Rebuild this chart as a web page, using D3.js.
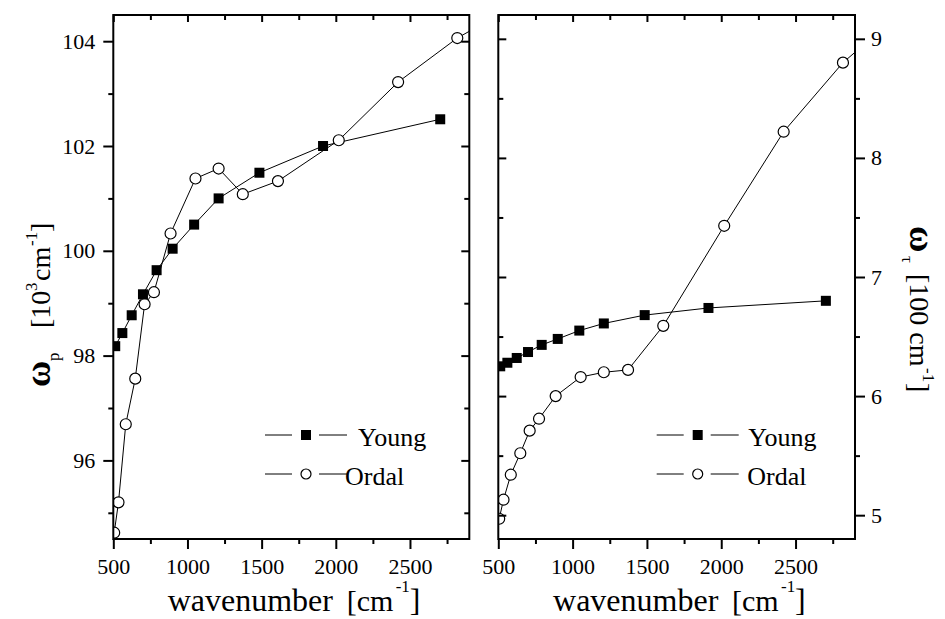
<!DOCTYPE html>
<html>
<head>
<meta charset="utf-8">
<script src="https://cdn.jsdelivr.net/npm/d3@7"></script>
<style>
  body { margin: 0; background: #fff; }
  svg { display: block; font-family: "Liberation Serif", "Times New Roman", serif; }
</style>
</head>
<body>
<svg width="945" height="619"></svg>
<script>
// data
var youngWavenumber = [513, 561, 624, 700, 792, 900, 1045, 1210, 1485, 1914, 2704];
var youngPlasma = [98.18, 98.43, 98.77, 99.17, 99.63, 100.04, 100.5, 101.0, 101.49, 102.0, 102.51];
var youngDamping = [6.25, 6.28, 6.32, 6.37, 6.43, 6.48, 6.55, 6.61, 6.68, 6.74, 6.80];

var ordalWavenumber = [506, 535, 584, 648, 711, 774, 886, 1054, 1210, 1373, 1610, 2020, 2420, 2819, 3220];
var ordalPlasma = [94.62, 95.2, 96.69, 97.56, 98.98, 99.21, 100.33, 101.38, 101.57, 101.08, 101.33, 102.11, 103.22, 104.06, 104.7];
var ordalDamping = [4.97, 5.13, 5.34, 5.52, 5.71, 5.81, 6.0, 6.16, 6.2, 6.22, 6.59, 7.43, 8.22, 8.80, 9.23];

var seriesNames = ['Young', 'Ordal'];

var xTicks = [500, 1000, 1500, 2000, 2500];
var xMinorTicks = [750, 1250, 1750, 2250, 2750];
var plasmaTicks = [96, 98, 100, 102, 104];
var plasmaMinorTicks = [95, 97, 99, 101, 103];
var dampingTicks = [5, 6, 7, 8, 9];
var dampingMinorTicks = [5.5, 6.5, 7.5, 8.5];

var serif = '"Liberation Serif", "Times New Roman", serif';
var svg = d3.select('svg');

var plotTop = 15;
var plotBottom = 539;

var panels = [
    { id: 'clipLeft', side: 'left', left: 113.3, right: 469.3, yDomain: [94.5, 104.5],
      young: youngPlasma, ordal: ordalPlasma, yTicks: plasmaTicks, yMinor: plasmaMinorTicks,
      legend: { x: 265, textYoung: 358, textOrdal: 345 } },
    { id: 'clipRight', side: 'right', left: 498.3, right: 855, yDomain: [4.8, 9.2],
      young: youngDamping, ordal: ordalDamping, yTicks: dampingTicks, yMinor: dampingMinorTicks,
      legend: { x: 656.7, textYoung: 748.3, textOrdal: 747.3 } }
];

function addAxis(gen, tx, ty, values, size, pad, labels) {
    var g = svg.append('g')
        .attr('transform', 'translate(' + tx + ',' + ty + ')')
        .call(gen.tickValues(values).tickSize(size).tickPadding(pad).tickFormat(d3.format('d')));
    g.attr('font-family', serif).attr('font-size', 22);
    g.select('.domain').remove();
    g.selectAll('.tick line').attr('stroke', '#000').attr('stroke-width', 2);
    g.selectAll('.tick text').attr('fill', '#000');
    if (!labels) g.selectAll('.tick text').remove();
}

panels.forEach(function (p) {
    var x = d3.scaleLinear().domain([500, 2900]).range([p.left, p.right]);
    var y = d3.scaleLinear().domain(p.yDomain).range([plotBottom, plotTop]);

    svg.append('clipPath').attr('id', p.id).append('rect')
        .attr('x', p.left).attr('y', plotTop)
        .attr('width', p.right - p.left).attr('height', plotBottom - plotTop);

    var plot = svg.append('g').attr('clip-path', 'url(#' + p.id + ')');
    var line = d3.line().x(function (d) { return x(d[0]); }).y(function (d) { return y(d[1]); });

    var ordal = d3.zip(ordalWavenumber, p.ordal);
    var young = d3.zip(youngWavenumber, p.young);

    plot.append('path').datum(ordal).attr('d', line)
        .attr('fill', 'none').attr('stroke', '#000').attr('stroke-width', 1);
    plot.append('path').datum(young).attr('d', line)
        .attr('fill', 'none').attr('stroke', '#000').attr('stroke-width', 1);

    plot.selectAll('circle').data(ordal).enter()
        .append('circle')
        .attr('cx', function (d) { return x(d[0]); })
        .attr('cy', function (d) { return y(d[1]); })
        .attr('r', 5.5)
        .attr('fill', '#fff').attr('stroke', '#000').attr('stroke-width', 1.2);

    plot.selectAll('rect.sq').data(young).enter()
        .append('rect').attr('class', 'sq')
        .attr('x', function (d) { return x(d[0]) - 5; })
        .attr('y', function (d) { return y(d[1]) - 5; })
        .attr('width', 10).attr('height', 10)
        .attr('fill', '#000');

    // bottom (outward, labelled) and top (inward) x axes
    addAxis(d3.axisBottom(x), 0, plotBottom, xTicks, 10, 9, true);
    addAxis(d3.axisBottom(x), 0, plotBottom, xMinorTicks, 5, 0, false);
    addAxis(d3.axisBottom(x), 0, plotTop, xTicks, 7, 0, false);
    addAxis(d3.axisBottom(x), 0, plotTop, xMinorTicks, 5, 0, false);

    if (p.side === 'left') {
        addAxis(d3.axisLeft(y), p.left, 0, p.yTicks, 10, 8, true);
        addAxis(d3.axisLeft(y), p.left, 0, p.yMinor, 5, 0, false);
        addAxis(d3.axisLeft(y), p.right, 0, p.yTicks, 8, 0, false);
        addAxis(d3.axisLeft(y), p.right, 0, p.yMinor, 5, 0, false);
    } else {
        addAxis(d3.axisRight(y), p.left, 0, p.yTicks, 8, 0, false);
        addAxis(d3.axisRight(y), p.left, 0, p.yMinor, 5, 0, false);
        addAxis(d3.axisRight(y), p.right, 0, p.yTicks, 10, 6, true);
        addAxis(d3.axisRight(y), p.right, 0, p.yMinor, 5, 0, false);
    }

    // frame
    svg.append('rect')
        .attr('x', p.left).attr('y', plotTop)
        .attr('width', p.right - p.left).attr('height', plotBottom - plotTop)
        .attr('fill', 'none').attr('stroke', '#000').attr('stroke-width', 2);

    // x title
    var cx = (p.left + p.right) / 2 - 123.6;
    var xt = svg.append('text').attr('fill', '#000').attr('font-size', 32)
        .attr('transform', 'translate(' + cx + ',611)');
    xt.append('tspan').attr('x', 0).text('wavenumber');
    xt.append('tspan').attr('x', 179).attr('font-size', 30).text('[cm');
    xt.append('tspan').attr('x', 228).attr('y', -19).attr('font-size', 17).text('-1');
    xt.append('tspan').attr('x', 242).attr('y', 0).text(']');

    // legend
    var lg = svg.append('g');
    var rows = [
        { name: seriesNames[0], y: 435, tx: p.legend.textYoung, square: true },
        { name: seriesNames[1], y: 474, tx: p.legend.textOrdal, square: false }
    ];
    rows.forEach(function (r) {
        var lx = p.legend.x;
        lg.append('line').attr('x1', lx).attr('x2', lx + 27).attr('y1', r.y).attr('y2', r.y)
            .attr('stroke', '#000').attr('stroke-width', 1);
        lg.append('line').attr('x1', lx + 54).attr('x2', lx + 82).attr('y1', r.y).attr('y2', r.y)
            .attr('stroke', '#000').attr('stroke-width', 1);
        if (r.square) {
            lg.append('rect').attr('x', lx + 41 - 5).attr('y', r.y - 5).attr('width', 10).attr('height', 10).attr('fill', '#000');
        } else {
            lg.append('circle').attr('cx', lx + 41).attr('cy', r.y).attr('r', 5)
                .attr('fill', '#fff').attr('stroke', '#000').attr('stroke-width', 1.2);
        }
        lg.append('text').attr('x', r.tx).attr('y', r.y + 11).attr('font-size', 26).attr('fill', '#000').text(r.name);
    });
});

// y titles
var lt = svg.append('text').attr('fill', '#000').attr('font-size', 28)
    .attr('transform', 'translate(50,387) rotate(-90)');
lt.append('tspan').attr('x', 0).attr('font-size', 36).attr('font-weight', 'bold').text('ω');
lt.append('tspan').attr('x', 26).attr('y', 9).attr('font-size', 17).text('p');
lt.append('tspan').attr('x', 59).attr('y', 0).text('[10');
lt.append('tspan').attr('x', 96).attr('y', -13).attr('font-size', 17).text('3');
lt.append('tspan').attr('x', 106).attr('y', 0).text('cm');
lt.append('tspan').attr('x', 141).attr('y', -13).attr('font-size', 17).text('-1');
lt.append('tspan').attr('x', 155).attr('y', 0).text(']');

var rt = svg.append('text').attr('fill', '#000').attr('font-size', 28)
    .attr('transform', 'translate(910,226) rotate(90)');
rt.append('tspan').attr('x', 0).attr('font-size', 36).attr('font-weight', 'bold').text('ω');
rt.append('tspan').attr('x', 30).attr('y', 8).attr('font-size', 17).text('τ');
rt.append('tspan').attr('x', 48).attr('y', 0).text('[100 cm');
rt.append('tspan').attr('x', 142).attr('y', -13).attr('font-size', 17).text('-1');
rt.append('tspan').attr('x', 157).attr('y', 0).text(']');
</script>
</body>
</html>
